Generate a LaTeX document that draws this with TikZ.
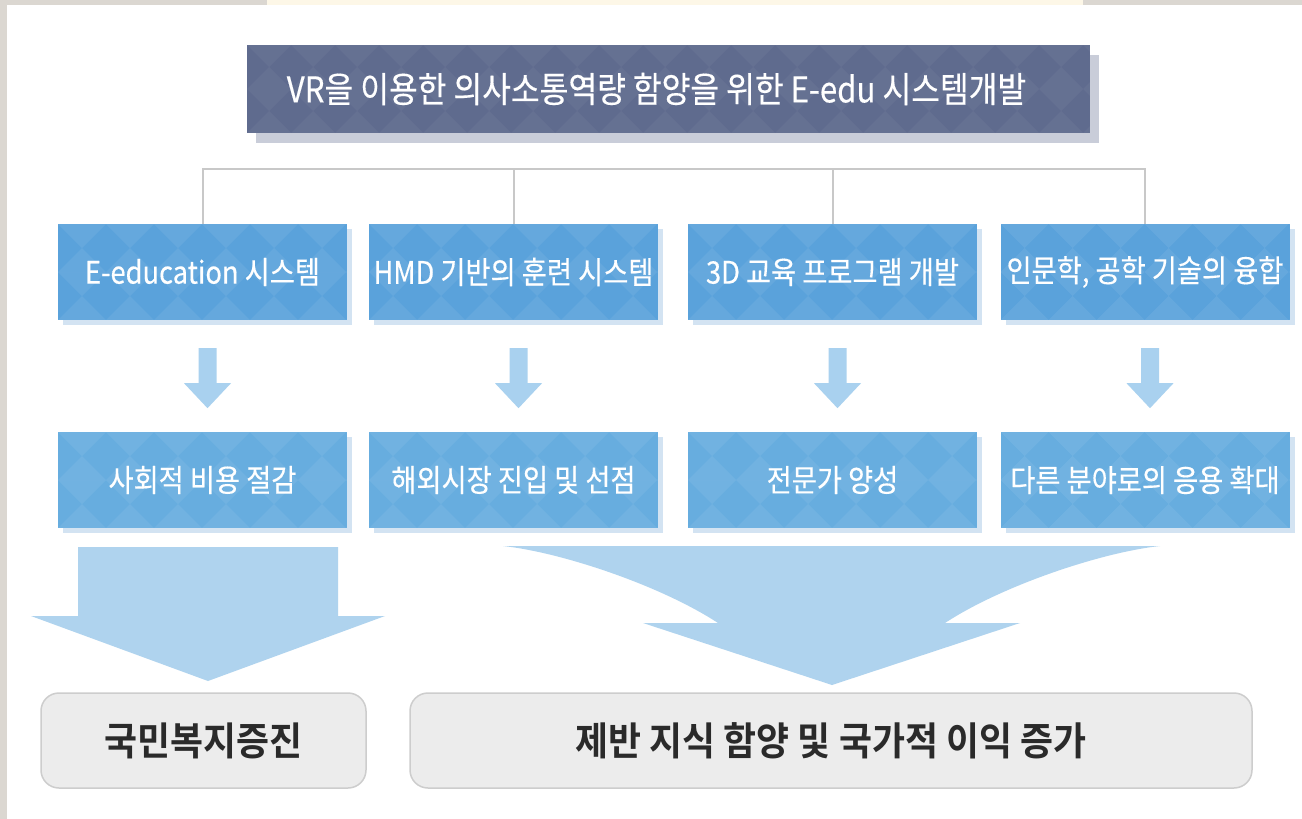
\documentclass[tikz,border=0pt]{standalone}
\usepackage{fontspec}
\newfontfamily\kr[FakeStretch=0.88,FakeBold=0.35]{Noto Sans CJK KR}
\newfontfamily\krb[FakeStretch=0.92,BoldFont={* Bold}]{Noto Sans CJK KR}
\usetikzlibrary{shadows,calc}
\definecolor{framegray}{HTML}{DBD7D1}
\definecolor{cream}{HTML}{FDF7E7}
\definecolor{titlec}{HTML}{5F6B8E}
\definecolor{titleshadow}{HTML}{C9CDD9}
\definecolor{lvlone}{HTML}{5AA2DB}
\definecolor{lvltwo}{HTML}{67ADDF}
\definecolor{lvlshadow}{HTML}{D3E3F2}
\definecolor{smallarrc}{HTML}{A9D1EF}
\definecolor{bigarrc}{HTML}{AFD3EE}
\definecolor{bottomfill}{HTML}{ECECEC}
\definecolor{bottomdraw}{HTML}{CDCDCD}
\definecolor{connc}{HTML}{C8C8C8}
\definecolor{darktext}{HTML}{2A2A2A}
\tikzset{
  tileop/.store in=\tileop, tileop=0.07,
  tiles/.style={path picture={
    \foreach \i in {0,...,19}{\foreach \j in {0,1}{
      \path (path picture bounding box.north west) ++(\i*#1,\j*#1) coordinate (t);
      \fill[white,opacity=\tileop] (t) -- ++(#1,0) -- ++(-#1/2,#1/2) -- cycle;
      \fill[white,opacity=\tileop] (t) ++(0,#1) -- ++(#1,0) -- ++(-#1/2,-#1/2) -- cycle;
    }}}},
  titlebox/.style={fill=titlec, minimum width=843pt, minimum height=88pt, inner sep=0pt,
    text=white, font=\kr\fontsize{35.5}{40}\selectfont, tileop=0.045, tiles=44,
    drop shadow={shadow xshift=9pt, shadow yshift=-10pt, fill=titleshadow, opacity=1}},
  lvlbox/.style={minimum width=289pt, minimum height=96pt, inner sep=0pt,
    text=white, font=\kr\fontsize{31}{35}\selectfont, tileop=0.07, tiles=48,
    drop shadow={shadow xshift=5pt, shadow yshift=-5pt, fill=lvlshadow, opacity=1}},
  lvlonebox/.style={lvlbox, fill=lvlone},
  lvltwobox/.style={lvlbox, fill=lvltwo},
  resultbox/.style={fill=bottomfill, draw=bottomdraw, line width=1.5pt, rounded corners=18pt,
    minimum height=95pt, inner sep=0pt, text=darktext, font=\krb\bfseries\fontsize{39}{43}\selectfont},
  conn/.style={draw=connc, line width=2pt},
  smallarr/.style={fill=smallarrc},
  bigarr/.style={fill=bigarrc}
}
\newcommand{\downarr}[1]{%
  \path ($(#1.south)+(5,28)$) coordinate (p);
  \fill[smallarr] (p) ++(-9,0) -- ++(18,0) -- ++(0,35) -- ++(14.5,0) -- ++(-23.5,25) -- ++(-23.5,-25) -- ++(14.5,0) -- cycle;}
\begin{document}
\begin{tikzpicture}[x=1pt,y=-1pt]
\useasboundingbox (0,0) rectangle (1302,819);
\fill[white] (0,0) rectangle (1302,819);
\fill[framegray] (0,0) rectangle (7,819);
\fill[framegray] (0,0) rectangle (1302,5);
\fill[cream] (267,0) rectangle (1083,5);

\node[titlebox] (title) at (668.5,89) {VR을 이용한 의사소통역량 함양을 위한 E-edu 시스템개발\hspace*{24pt}};

\node[lvlonebox] (b1) at (202.5,272) {E-education 시스템};
\node[lvlonebox] (b2) at (513.5,272) {HMD 기반의 훈련 시스템};
\node[lvlonebox] (b3) at (832.5,272) {3D 교육 프로그램 개발};
\node[lvlonebox] (b4) at (1145,272) {인문학, 공학 기술의 융합};

\node[lvltwobox] (c1) at (202.5,480) {사회적 비용 절감};
\node[lvltwobox] (c2) at (513.5,480) {해외시장 진입 및 선점};
\node[lvltwobox] (c3) at (832.5,480) {전문가 양성};
\node[lvltwobox] (c4) at (1145,480) {다른 분야로의 응용 확대};

\node[resultbox, minimum width=325pt] (d1) at (203.5,740.5) {국민복지증진};
\node[resultbox, minimum width=842pt] (d2) at (831,740.5) {제반 지식 함양 및 국가적 이익 증가};

\draw[conn] (b1.north) -- ++(0,-55) coordinate (tl) -| (b4.north);
\draw[conn] (b2.north) -- (b2.north |- tl);
\draw[conn] (b3.north) -- (b3.north |- tl);

\downarr{b1}
\downarr{b2}
\downarr{b3}
\downarr{b4}

\fill[bigarr] (78,547) -- (338,547) -- (338,616) -- (385,616) -- (208,681) -- (31,616) -- (78,616) -- cycle;
\fill[bigarr] (503,546) -- (1160,546) .. controls (1103,552) and (1003,585) .. (945,623)
  -- (1020,623) -- (832,685) -- (643,623) -- (718,623)
  .. controls (660,585) and (560,552) .. (503,546) -- cycle;
\end{tikzpicture}
\end{document}
